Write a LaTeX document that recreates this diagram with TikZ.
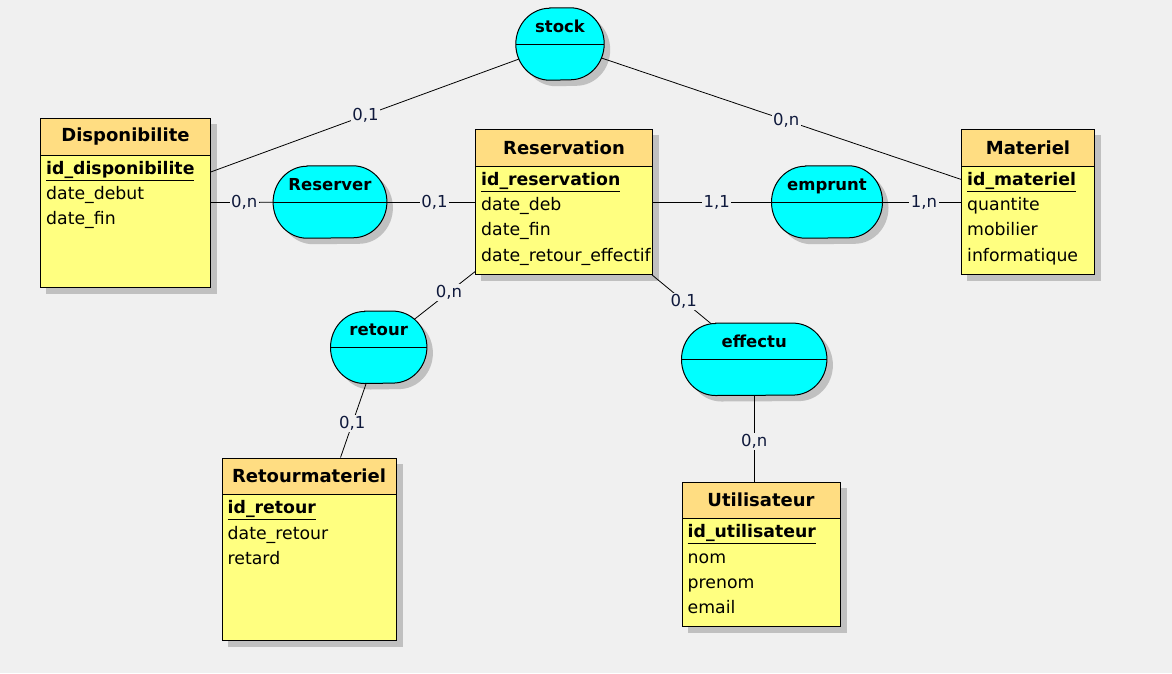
\documentclass[tikz,border=0pt]{standalone}
\usepackage{fontspec}
\setmainfont{DejaVu Sans}
\usetikzlibrary{calc}
\definecolor{bg}{RGB}{240,240,240}
\definecolor{hdr}{RGB}{255,221,130}
\definecolor{body}{RGB}{255,255,128}
\definecolor{assocfill}{RGB}{0,255,255}
\definecolor{shadowc}{RGB}{192,192,192}
\definecolor{card}{RGB}{15,25,60}
\pgfdeclarelayer{bglayer}
\pgfdeclarelayer{shadow}
\pgfdeclarelayer{edges}
\pgfdeclarelayer{shapes}
\pgfsetlayers{bglayer,shadow,edges,shapes,main}
\newcommand{\idattr}[1]{\underline{\textbf{#1}}}
\newcommand{\assocpath}[3]{($(#1.north west)+(34+#2,#3)$) -- ($(#1.north east)+(-34+#2,#3)$) arc[start angle=90,end angle=-90,x radius=34pt,y radius=36pt] -- ($(#1.south west)+(34+#2,#3)$) arc[start angle=270,end angle=90,x radius=34pt,y radius=36pt] -- cycle}
\tikzset{
  entbox/.style={draw, line width=1pt, fill=body, anchor=north west, inner sep=0pt,
    path picture={\fill[hdr] (path picture bounding box.north west) rectangle ([yshift=-36.5pt]path picture bounding box.north east);
      \draw[line width=1pt] ([yshift=-36.5pt]path picture bounding box.north west) -- ([yshift=-36.5pt]path picture bounding box.north east);}},
  enttitle/.style={font=\fontsize{18}{20}\selectfont\bfseries, inner sep=0pt},
  entattr/.style={font=\fontsize{17.3}{25.3}\selectfont, align=left, anchor=north west, inner sep=0pt},
  assoc/.style={minimum height=72pt, inner sep=0pt, text height=12pt, text depth=36pt, font=\fontsize{16.5}{18}\selectfont\bfseries},
  edge/.style={line width=0.8pt},
  card/.style={font=\fontsize{16.5}{20}\selectfont, text=card, fill=bg, inner sep=1.5pt},
}
\begin{document}
\begin{tikzpicture}[x=1pt,y=1pt]
\useasboundingbox (0,0) rectangle (1172,-673);
\begin{pgfonlayer}{bglayer}
  \fill[bg] (0,0) rectangle (1172,-673);
\end{pgfonlayer}

% entities
\node[entbox, minimum width=170pt, minimum height=169pt] (dispo) at (40,-118) {};
\node[entbox, minimum width=177pt, minimum height=145pt] (reservation) at (475,-129) {};
\node[entbox, minimum width=133pt, minimum height=145pt] (materiel) at (961,-129) {};
\node[entbox, minimum width=174pt, minimum height=182pt] (retourmat) at (221.5,-457.5) {};
\node[entbox, minimum width=158pt, minimum height=144pt] (utilisateur) at (681.5,-481.5) {};

\node[enttitle] (dispo-t) at ($(dispo.north)+(0,-18.5)$) {Disponibilite};
\node[enttitle] (reservation-t) at ($(reservation.north)+(0,-18.5)$) {Reservation};
\node[enttitle] (materiel-t) at ($(materiel.north)+(0,-18.5)$) {Materiel};
\node[enttitle] (retourmat-t) at ($(retourmat.north)+(0,-18.5)$) {Retourmateriel};
\node[enttitle] (utilisateur-t) at ($(utilisateur.north)+(0,-18.5)$) {Utilisateur};

\node[entattr] (dispo-a) at ($(dispo.north west)+(6,-43)$) {\idattr{id\_disponibilite}\\date\_debut\\date\_fin};
\node[entattr] (reservation-a) at ($(reservation.north west)+(6,-43)$) {\idattr{id\_reservation}\\date\_deb\\date\_fin\\date\_retour\_effectif};
\node[entattr] (materiel-a) at ($(materiel.north west)+(6,-43)$) {\idattr{id\_materiel}\\quantite\\mobilier\\informatique};
\node[entattr] (retourmat-a) at ($(retourmat.north west)+(6,-43)$) {\idattr{id\_retour}\\date\_retour\\retard};
\node[entattr] (utilisateur-a) at ($(utilisateur.north west)+(6,-43)$) {\idattr{id\_utilisateur}\\nom\\prenom\\email};

% associations
\node[assoc, minimum width=88pt] (stock) at (560,-44) {stock};
\node[assoc, minimum width=113.4pt] (reserver) at (330,-202) {Reserver};
\node[assoc, minimum width=110.6pt] (emprunt) at (827,-202) {emprunt};
\node[assoc, minimum width=96pt] (retour) at (378.7,-347.3) {retour};
\node[assoc, minimum width=145pt] (effectu) at (754.2,-359.3) {effectu};

\begin{pgfonlayer}{shadow}
  \foreach \n in {dispo,reservation,materiel,retourmat,utilisateur}
    \fill[shadowc] ($(\n.north west)+(6,-6)$) rectangle ($(\n.south east)+(6,-6)$);
  \foreach \n in {stock,reserver,emprunt,retour,effectu}
    \fill[shadowc] \assocpath{\n}{6}{-6};
\end{pgfonlayer}

\begin{pgfonlayer}{shapes}
  \foreach \n in {stock,reserver,emprunt,retour,effectu}{
    \filldraw[fill=assocfill, draw=black, line width=1pt] \assocpath{\n}{0}{0};
    \draw[line width=1pt] (\n.west) -- (\n.east);
  }
\end{pgfonlayer}

\begin{pgfonlayer}{edges}
  \draw[edge] (dispo) -- (stock.center) node[card, pos=0.443] (l1) {0,1};
  \draw[edge] (materiel) -- (stock.center) node[card, pos=0.436] (l2) {0,n};
  \draw[edge] (dispo) -- (reserver.center) node[card, pos=0.28] (l3) {0,n};
  \draw[edge] (reservation) -- (reserver.center) node[card, pos=0.28] (l4) {0,1};
  \draw[edge] (reservation) -- (emprunt.center) node[card, pos=0.366] (l5) {1,1};
  \draw[edge] (materiel) -- (emprunt.center) node[card, pos=0.276] (l6) {1,n};
  \draw[edge] (reservation) -- (retour.center) node[card, pos=0.27] (l7) {0,n};
  \draw[edge] (retourmat) -- (retour.center) node[card, pos=0.31] (l8) {0,1};
  \draw[edge] (reservation) -- (effectu.center) node[card, pos=0.31] (l9) {0,1};
  \draw[edge] (effectu.south) -- (effectu.south |- utilisateur.north) node[card, pos=0.53] (l10) {0,n};
\end{pgfonlayer}
\end{tikzpicture}
\end{document}
